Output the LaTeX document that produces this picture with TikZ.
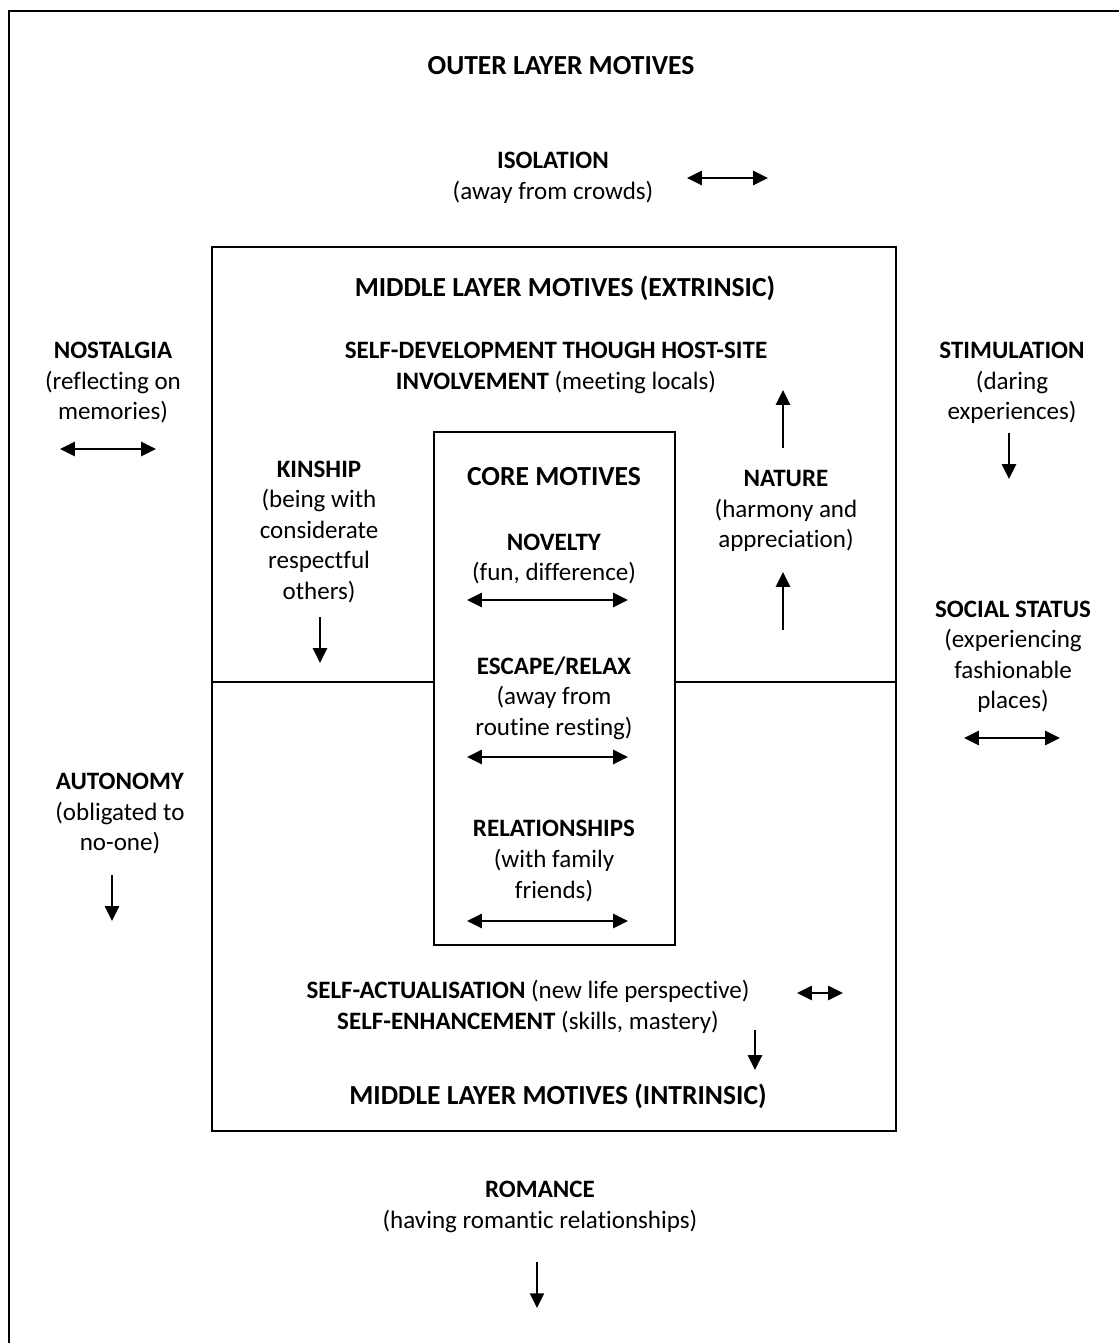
\documentclass[tikz,border=0pt]{standalone}
\usepackage{fontspec}
\setmainfont[Ligatures={NoCommon,NoRequired,NoContextual,NoRare}]{Carlito}
\usetikzlibrary{arrows.meta}

\begin{document}
\begin{tikzpicture}[
  x=0.025cm, y=-0.025cm,
  every node/.style={inner sep=0pt, align=center, font=\fontsize{17.8}{21.7}\selectfont},
  title/.style={font=\fontsize{19.6}{23}\selectfont\bfseries},
  box/.style={draw, line width=1.4pt},
  twoway/.style={line width=1.6pt, {Triangle[length=10.5pt,width=10pt]}-{Triangle[length=10.5pt,width=10pt]}},
  oneway/.style={line width=1.6pt, -{Triangle[length=10.5pt,width=10pt]}}
]
\useasboundingbox (0,0) rectangle (1119,1343);
\clip (0,0) rectangle (1119,1343);
\draw[line width=2.1pt] (9,11) rectangle (1160,1380);

% boxes
\node[box, minimum width=17.1cm, minimum height=22.1cm] (midbox) at (554,689) {};
\node[box, minimum width=6.025cm, minimum height=12.825cm, fill=white] (corebox) at (554.5,688.5) {};
\coordinate (divy) at (0,682);
\draw[line width=1.4pt] (midbox.west |- divy) -- (corebox.west |- divy);
\draw[line width=1.4pt] (corebox.east |- divy) -- (midbox.east |- divy);

% outer layer
\node[title] (outer) at (561,66) {OUTER LAYER MOTIVES};
\node (isolation) at (553,178) {\textbf{ISOLATION}\\(away from crowds)};
\node (nostalgia) at (113,383) {\textbf{NOSTALGIA}\\(reflecting on\\memories)};
\node (stimulation) at (1012,383) {\textbf{STIMULATION}\\(daring\\experiences)};
\node (status) at (1013,657) {\textbf{SOCIAL STATUS}\\(experiencing\\fashionable\\places)};
\node (autonomy) at (120,814) {\textbf{AUTONOMY}\\(obligated to\\no-one)};
\node (romance) at (540,1207) {\textbf{ROMANCE}\\(having romantic relationships)};

% middle layer
\node[title] (extrinsic) at (565,288) {MIDDLE LAYER MOTIVES (EXTRINSIC)};
\node (selfdev) at (556,368) {\textbf{SELF-DEVELOPMENT THOUGH HOST-SITE}\\\textbf{INVOLVEMENT} (meeting locals)};
\node (kinship) at (319,532) {\textbf{KINSHIP}\\(being with\\considerate\\respectful\\others)};
\node (nature) at (786,511) {\textbf{NATURE}\\(harmony and\\appreciation)};
\node (actual) at (528,1007) {\textbf{SELF-ACTUALISATION} (new life perspective)\\\textbf{SELF-ENHANCEMENT} (skills, mastery)};
\node[title] (intrinsic) at (558,1096) {MIDDLE LAYER MOTIVES (INTRINSIC)};

% core
\node[title] (core) at (554,477) {CORE MOTIVES};
\node (novelty) at (554,559) {\textbf{NOVELTY}\\(fun, difference)};
\node (escape) at (554,698) {\textbf{ESCAPE/RELAX}\\(away from\\routine resting)};
\node (relations) at (554,861) {\textbf{RELATIONSHIPS}\\(with family\\friends)};

% arrows
\coordinate (iso-a) at (687,178); \coordinate (iso-b) at (768,178);
\coordinate (nos-a) at (60,449); \coordinate (nos-b) at (156,449);
\coordinate (sti-a) at (1009,433); \coordinate (sti-b) at (1009,479);
\coordinate (sta-a) at (964,738); \coordinate (sta-b) at (1060,738);
\coordinate (aut-a) at (112,875); \coordinate (aut-b) at (112,921);
\coordinate (rom-a) at (537,1262); \coordinate (rom-b) at (537,1308);
\coordinate (kin-a) at (320,617); \coordinate (kin-b) at (320,663);
\coordinate (nat-a) at (783,448); \coordinate (nat-b) at (783,390);
\coordinate (nat-c) at (783,630); \coordinate (nat-d) at (783,572);
\coordinate (act-a) at (797,993); \coordinate (act-b) at (843,993);
\coordinate (enh-a) at (755,1030); \coordinate (enh-b) at (755,1070);
\coordinate (nov-a) at (467,600); \coordinate (nov-b) at (628,600);
\coordinate (esc-a) at (467,757); \coordinate (esc-b) at (628,757);
\coordinate (rel-a) at (467,921); \coordinate (rel-b) at (628,921);

\draw[twoway] (iso-a) -- (iso-b);
\draw[twoway] (nos-a) -- (nos-b);
\draw[oneway] (sti-a) -- (sti-b);
\draw[twoway] (sta-a) -- (sta-b);
\draw[oneway] (aut-a) -- (aut-b);
\draw[oneway] (rom-a) -- (rom-b);
\draw[oneway] (kin-a) -- (kin-b);
\draw[oneway] (nat-a) -- (nat-b);
\draw[oneway] (nat-c) -- (nat-d);
\draw[twoway] (act-a) -- (act-b);
\draw[oneway] (enh-a) -- (enh-b);
\draw[twoway] (nov-a) -- (nov-b);
\draw[twoway] (esc-a) -- (esc-b);
\draw[twoway] (rel-a) -- (rel-b);
\end{tikzpicture}
\end{document}
